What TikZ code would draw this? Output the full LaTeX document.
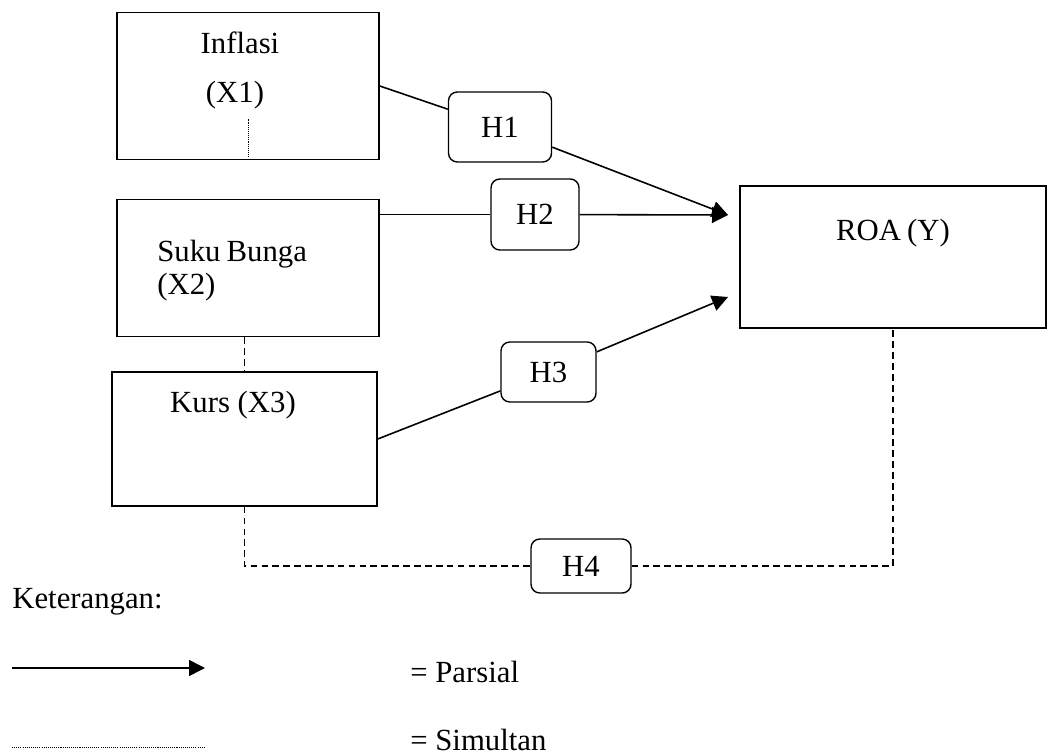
\documentclass[tikz,border=0pt]{standalone}
\usepackage{fontspec}
\setmainfont{Liberation Serif}
\usetikzlibrary{arrows.meta}

\begin{document}
\begin{tikzpicture}[
    x=0.02cm, y=-0.02cm,
    font=\fontsize{17.5}{18.8}\selectfont,
    varbox/.style={draw, line width=0.9pt, inner sep=0pt},
    hypo/.style={draw, rounded corners=5pt, line width=0.8pt, inner sep=0pt},
    txt/.style={inner sep=0pt},
    conn/.style={line width=0.9pt},
    parsial/.style={conn, -{Triangle[length=3.2mm,width=3.2mm]}},
    simultan/.style={line width=1pt, dash pattern=on 3.8pt off 2.4pt},
    dotline/.style={line width=0.5pt, dash pattern=on 0.6pt off 0.6pt}
]
\useasboundingbox (0,0) rectangle (1047,756);

% variable boxes
\node[varbox, minimum width=5.24cm, minimum height=2.94cm] (inflasi) at (248,86) {};
\node[varbox, minimum width=5.24cm, minimum height=2.74cm] (suku) at (248,268) {};
\node[varbox, minimum width=5.30cm, minimum height=2.68cm] (kurs) at (244.5,439) {};
\node[varbox, minimum width=6.12cm, minimum height=2.84cm] (roa) at (893,257) {};

% box texts
\node[txt] (lblInflasi) at (240,43) {Inflasi};
\node[txt] (lblX1) at (235,95) {(X1)};
\node[txt, anchor=west, align=left] (lblSuku) at (157,271) {Suku\hspace{0.2em}Bunga\\(X2)};
\node[txt] (lblKurs) at (233,405) {Kurs (X3)};
\node[txt] (lblRoa) at (893,233) {ROA\hspace{0.2em}(Y)};

% hypotheses
\node[hypo, minimum width=2.06cm, minimum height=1.40cm] (h1) at (500,127) {H1};
\node[hypo, minimum width=1.76cm, minimum height=1.42cm] (h2) at (535,214.5) {H2};
\node[hypo, minimum width=1.90cm, minimum height=1.20cm] (h3) at (548.5,372) {H3};
\node[hypo, minimum width=2.00cm, minimum height=1.08cm] (h4) at (581,566) {H4};

% arrow ends in front of ROA
\coordinate (tipA) at (728,215);
\coordinate (tipB) at (728,297);

% arrows (partial)
\draw[conn] (inflasi.east) -- (h1);
\draw[parsial] (h1) -- (tipA);
\draw[conn] (suku.east |- h2) -- (h2);
\draw[parsial] (h2) -- (tipA);
\draw[conn] (kurs.east) -- (h3);
\draw[parsial] (h3) -- (tipB);

% simultaneous links
\draw[dotline] ([yshift=0.06cm]inflasi.south) -- ++(0,-38);
\draw[simultan] (suku.south -| kurs.north) -- (kurs.north);
\draw[simultan] (kurs.south) |- (h4.west);
\draw[simultan] (h4.east) -| (roa.south);

% legend
\node[txt, anchor=west] (keterangan) at (12,602) {Keterangan:};
\coordinate (lgA) at (12,668);
\coordinate (lgB) at (205,668);
\coordinate (lgC) at (12,747);
\coordinate (lgD) at (205,747);
\draw[parsial] (lgA) -- (lgB);
\draw[dotline] (lgC) -- (lgD);
\node[txt, anchor=west] (lblParsial) at (410,672) {= Parsial};
\node[txt, anchor=west] (lblSimultan) at (410,740) {= Simultan};

\end{tikzpicture}
\end{document}
